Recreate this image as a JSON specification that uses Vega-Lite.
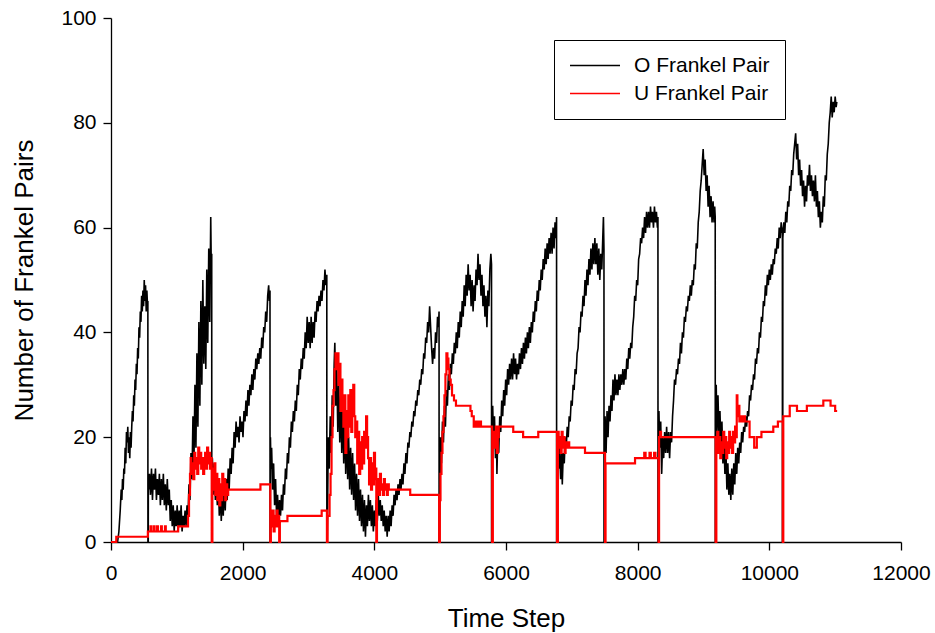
{
"$schema": "https://vega.github.io/schema/vega-lite/v6.json",
"width": 790, "height": 524,
"autosize": {"type": "none"},
"padding": {"left": 111, "top": 18, "right": 34, "bottom": 91},
"background": "white",
"config": {
 "view": {"stroke": null},
 "font": "Liberation Sans",
 "axis": {"domainColor": "black", "tickColor": "black", "labelColor": "black", "titleColor": "black", "grid": false, "labelFont": "Liberation Sans", "titleFont": "Liberation Sans", "labelFontSize": 21, "titleFontSize": 26, "titleFontWeight": "normal", "tickSize": 8, "domainWidth": 1.3, "tickWidth": 1.3}
},
"datasets": {
"o": [
{"t":0,"v":0},{"t":100,"v":0},{"t":120,"v":2},{"t":140,"v":6},{"t":155,"v":10},{"t":165,"v":8},{"t":175,"v":12},{"t":185,"v":10},{"t":195,"v":14},{"t":205,"v":13},{"t":215,"v":18},{"t":225,"v":15},{"t":235,"v":21},{"t":245,"v":19},{"t":255,"v":22},{"t":265,"v":17},{"t":275,"v":20},{"t":285,"v":16},{"t":295,"v":21},{"t":305,"v":18},{"t":315,"v":22},{"t":325,"v":25},{"t":335,"v":23},{"t":345,"v":28},{"t":355,"v":26},{"t":365,"v":31},{"t":375,"v":29},{"t":385,"v":34},{"t":395,"v":32},{"t":405,"v":37},{"t":415,"v":35},{"t":425,"v":41},{"t":435,"v":39},{"t":445,"v":44},{"t":455,"v":42},{"t":465,"v":47},{"t":475,"v":44},{"t":485,"v":48},{"t":495,"v":45},{"t":505,"v":50},{"t":515,"v":46},{"t":525,"v":49},{"t":535,"v":44},{"t":545,"v":48},{"t":555,"v":45},{"t":560,"v":46},{"t":561,"v":0},{"t":566,"v":0},{"t":567,"v":12},
{"t":570,"v":10},{"t":585,"v":13},{"t":600,"v":9},{"t":615,"v":14},{"t":630,"v":8},{"t":645,"v":13},{"t":660,"v":10},{"t":675,"v":14},{"t":690,"v":8},{"t":705,"v":12},{"t":720,"v":9},{"t":735,"v":13},{"t":750,"v":7},{"t":765,"v":12},{"t":780,"v":8},{"t":795,"v":13},{"t":810,"v":7},{"t":825,"v":11},{"t":840,"v":6},{"t":855,"v":12},{"t":870,"v":7},{"t":885,"v":10},{"t":900,"v":4},{"t":915,"v":8},{"t":930,"v":3},{"t":945,"v":7},{"t":960,"v":2},{"t":975,"v":6},{"t":990,"v":3},{"t":1005,"v":7},{"t":1020,"v":2},{"t":1035,"v":6},{"t":1050,"v":3},{"t":1065,"v":7},{"t":1080,"v":2},{"t":1095,"v":5},{"t":1110,"v":3},{"t":1125,"v":6},{"t":1140,"v":3},{"t":1155,"v":7},{"t":1170,"v":5},{"t":1185,"v":11},{"t":1200,"v":8},{"t":1215,"v":17},{"t":1230,"v":12},{"t":1245,"v":24},{"t":1260,"v":15},{"t":1275,"v":30},{"t":1290,"v":18},{"t":1305,"v":36},{"t":1320,"v":22},{"t":1335,"v":42},{"t":1350,"v":26},{"t":1365,"v":46},{"t":1380,"v":30},{"t":1395,"v":50},{"t":1410,"v":34},{"t":1425,"v":45},{"t":1440,"v":33},{"t":1455,"v":52},{"t":1470,"v":38},{"t":1485,"v":56},{"t":1500,"v":42},{"t":1515,"v":62},{"t":1525,"v":50},{"t":1530,"v":55},{"t":1531,"v":0},{"t":1536,"v":0},{"t":1537,"v":14},
{"t":1540,"v":16},{"t":1555,"v":9},{"t":1570,"v":15},{"t":1585,"v":8},{"t":1600,"v":13},{"t":1615,"v":7},{"t":1630,"v":12},{"t":1645,"v":5},{"t":1660,"v":10},{"t":1675,"v":4},{"t":1690,"v":9},{"t":1705,"v":5},{"t":1720,"v":11},{"t":1735,"v":6},{"t":1750,"v":12},{"t":1765,"v":8},{"t":1780,"v":14},{"t":1795,"v":10},{"t":1810,"v":16},{"t":1825,"v":13},{"t":1840,"v":18},{"t":1855,"v":15},{"t":1870,"v":21},{"t":1885,"v":18},{"t":1900,"v":23},{"t":1915,"v":20},{"t":1930,"v":22},{"t":1945,"v":19},{"t":1960,"v":24},{"t":1975,"v":21},{"t":1990,"v":23},{"t":2005,"v":20},{"t":2020,"v":25},{"t":2035,"v":23},{"t":2050,"v":27},{"t":2065,"v":24},{"t":2080,"v":29},{"t":2095,"v":26},{"t":2110,"v":30},{"t":2125,"v":28},{"t":2140,"v":32},{"t":2155,"v":29},{"t":2170,"v":33},{"t":2185,"v":31},{"t":2200,"v":35},{"t":2215,"v":33},{"t":2230,"v":36},{"t":2245,"v":34},{"t":2260,"v":37},{"t":2275,"v":35},{"t":2290,"v":39},{"t":2305,"v":37},{"t":2320,"v":41},{"t":2335,"v":40},{"t":2350,"v":44},{"t":2365,"v":42},{"t":2380,"v":47},{"t":2395,"v":49},{"t":2405,"v":46},{"t":2415,"v":48},{"t":2416,"v":0},{"t":2421,"v":0},{"t":2422,"v":20},
{"t":2430,"v":14},{"t":2440,"v":18},{"t":2455,"v":10},{"t":2470,"v":15},{"t":2485,"v":7},{"t":2500,"v":12},{"t":2515,"v":5},{"t":2530,"v":9},{"t":2545,"v":4},{"t":2560,"v":8},{"t":2575,"v":5},{"t":2590,"v":9},{"t":2605,"v":6},{"t":2620,"v":11},{"t":2635,"v":9},{"t":2650,"v":14},{"t":2665,"v":12},{"t":2680,"v":17},{"t":2695,"v":15},{"t":2710,"v":20},{"t":2725,"v":18},{"t":2740,"v":23},{"t":2755,"v":21},{"t":2770,"v":25},{"t":2785,"v":23},{"t":2800,"v":27},{"t":2815,"v":25},{"t":2830,"v":30},{"t":2845,"v":28},{"t":2860,"v":33},{"t":2875,"v":31},{"t":2890,"v":35},{"t":2905,"v":33},{"t":2920,"v":37},{"t":2935,"v":35},{"t":2950,"v":40},{"t":2965,"v":37},{"t":2980,"v":43},{"t":2995,"v":38},{"t":3010,"v":42},{"t":3025,"v":37},{"t":3040,"v":43},{"t":3055,"v":38},{"t":3070,"v":42},{"t":3085,"v":39},{"t":3100,"v":44},{"t":3115,"v":42},{"t":3130,"v":46},{"t":3145,"v":44},{"t":3160,"v":47},{"t":3175,"v":45},{"t":3190,"v":48},{"t":3205,"v":46},{"t":3220,"v":50},{"t":3235,"v":48},{"t":3250,"v":52},{"t":3265,"v":49},{"t":3278,"v":51},{"t":3279,"v":0},{"t":3284,"v":0},
{"t":3290,"v":6},{"t":3300,"v":20},{"t":3315,"v":14},{"t":3330,"v":24},{"t":3345,"v":17},{"t":3360,"v":28},{"t":3375,"v":22},{"t":3390,"v":34},{"t":3400,"v":38},{"t":3415,"v":26},{"t":3430,"v":33},{"t":3445,"v":21},{"t":3460,"v":30},{"t":3475,"v":19},{"t":3490,"v":28},{"t":3505,"v":17},{"t":3520,"v":26},{"t":3535,"v":15},{"t":3550,"v":24},{"t":3565,"v":13},{"t":3580,"v":22},{"t":3595,"v":12},{"t":3610,"v":20},{"t":3625,"v":10},{"t":3640,"v":18},{"t":3655,"v":9},{"t":3670,"v":17},{"t":3685,"v":8},{"t":3700,"v":15},{"t":3715,"v":6},{"t":3730,"v":13},{"t":3745,"v":5},{"t":3760,"v":12},{"t":3775,"v":4},{"t":3790,"v":10},{"t":3805,"v":3},{"t":3820,"v":9},{"t":3835,"v":2},{"t":3850,"v":8},{"t":3865,"v":1},{"t":3880,"v":7},{"t":3895,"v":3},{"t":3910,"v":9},{"t":3925,"v":4},{"t":3940,"v":8},{"t":3955,"v":3},{"t":3970,"v":7},{"t":3985,"v":2},{"t":4000,"v":6},{"t":4015,"v":3},{"t":4030,"v":8},{"t":4045,"v":4},{"t":4060,"v":9},{"t":4075,"v":5},{"t":4090,"v":8},{"t":4105,"v":4},{"t":4120,"v":7},{"t":4135,"v":3},{"t":4150,"v":6},{"t":4165,"v":2},{"t":4180,"v":5},{"t":4195,"v":1},{"t":4210,"v":5},{"t":4225,"v":2},{"t":4240,"v":6},{"t":4255,"v":3},{"t":4270,"v":7},{"t":4285,"v":5},{"t":4300,"v":9},{"t":4315,"v":7},{"t":4330,"v":10},{"t":4345,"v":8},{"t":4360,"v":11},{"t":4375,"v":9},{"t":4390,"v":12},{"t":4405,"v":10},{"t":4420,"v":13},{"t":4435,"v":11},{"t":4450,"v":15},{"t":4465,"v":13},{"t":4480,"v":17},{"t":4495,"v":15},{"t":4510,"v":19},{"t":4525,"v":18},{"t":4540,"v":21},{"t":4555,"v":20},{"t":4570,"v":23},{"t":4585,"v":22},{"t":4600,"v":25},{"t":4615,"v":24},{"t":4630,"v":27},{"t":4645,"v":26},{"t":4660,"v":29},{"t":4675,"v":28},{"t":4690,"v":31},{"t":4705,"v":30},{"t":4720,"v":33},{"t":4735,"v":32},{"t":4750,"v":36},{"t":4765,"v":35},{"t":4780,"v":39},{"t":4795,"v":38},{"t":4810,"v":42},{"t":4825,"v":40},{"t":4840,"v":45},{"t":4855,"v":41},{"t":4870,"v":37},{"t":4885,"v":34},{"t":4900,"v":37},{"t":4915,"v":35},{"t":4930,"v":40},{"t":4945,"v":38},{"t":4960,"v":43},{"t":4975,"v":41},{"t":4983,"v":44},{"t":4984,"v":0},{"t":4989,"v":0},
{"t":4995,"v":8},{"t":5005,"v":20},{"t":5020,"v":15},{"t":5035,"v":23},{"t":5050,"v":19},{"t":5065,"v":26},{"t":5080,"v":22},{"t":5095,"v":29},{"t":5110,"v":26},{"t":5125,"v":32},{"t":5140,"v":29},{"t":5155,"v":34},{"t":5170,"v":32},{"t":5185,"v":36},{"t":5200,"v":34},{"t":5215,"v":38},{"t":5230,"v":36},{"t":5245,"v":40},{"t":5260,"v":37},{"t":5275,"v":42},{"t":5290,"v":39},{"t":5305,"v":44},{"t":5320,"v":41},{"t":5335,"v":46},{"t":5350,"v":43},{"t":5365,"v":49},{"t":5380,"v":45},{"t":5395,"v":51},{"t":5410,"v":47},{"t":5425,"v":53},{"t":5440,"v":48},{"t":5455,"v":51},{"t":5470,"v":45},{"t":5485,"v":50},{"t":5500,"v":44},{"t":5515,"v":49},{"t":5530,"v":46},{"t":5545,"v":52},{"t":5560,"v":49},{"t":5575,"v":55},{"t":5590,"v":50},{"t":5605,"v":53},{"t":5620,"v":47},{"t":5635,"v":51},{"t":5650,"v":45},{"t":5665,"v":49},{"t":5680,"v":43},{"t":5695,"v":47},{"t":5710,"v":41},{"t":5725,"v":48},{"t":5740,"v":45},{"t":5755,"v":52},{"t":5770,"v":55},{"t":5780,"v":53},{"t":5781,"v":0},{"t":5786,"v":0},
{"t":5792,"v":10},{"t":5798,"v":26},{"t":5810,"v":19},{"t":5825,"v":24},{"t":5840,"v":16},{"t":5855,"v":21},{"t":5862,"v":13},{"t":5875,"v":20},{"t":5890,"v":17},{"t":5905,"v":24},{"t":5920,"v":21},{"t":5935,"v":27},{"t":5950,"v":24},{"t":5965,"v":29},{"t":5980,"v":26},{"t":5995,"v":31},{"t":6010,"v":28},{"t":6025,"v":33},{"t":6040,"v":30},{"t":6055,"v":34},{"t":6070,"v":31},{"t":6085,"v":35},{"t":6100,"v":31},{"t":6115,"v":36},{"t":6130,"v":32},{"t":6145,"v":35},{"t":6160,"v":31},{"t":6175,"v":34},{"t":6190,"v":32},{"t":6205,"v":36},{"t":6220,"v":33},{"t":6235,"v":37},{"t":6250,"v":34},{"t":6265,"v":38},{"t":6280,"v":35},{"t":6295,"v":39},{"t":6310,"v":36},{"t":6325,"v":40},{"t":6340,"v":37},{"t":6355,"v":41},{"t":6370,"v":38},{"t":6385,"v":42},{"t":6400,"v":40},{"t":6415,"v":44},{"t":6430,"v":42},{"t":6445,"v":46},{"t":6460,"v":44},{"t":6475,"v":48},{"t":6490,"v":46},{"t":6505,"v":50},{"t":6520,"v":48},{"t":6535,"v":52},{"t":6550,"v":50},{"t":6565,"v":54},{"t":6580,"v":52},{"t":6595,"v":56},{"t":6610,"v":53},{"t":6625,"v":57},{"t":6640,"v":54},{"t":6655,"v":58},{"t":6670,"v":55},{"t":6685,"v":59},{"t":6700,"v":55},{"t":6715,"v":60},{"t":6730,"v":56},{"t":6745,"v":61},{"t":6760,"v":58},{"t":6768,"v":62},{"t":6769,"v":0},{"t":6774,"v":0},
{"t":6780,"v":12},{"t":6786,"v":20},{"t":6800,"v":14},{"t":6815,"v":18},{"t":6830,"v":12},{"t":6845,"v":17},{"t":6855,"v":11},{"t":6870,"v":17},{"t":6885,"v":15},{"t":6900,"v":20},{"t":6915,"v":18},{"t":6930,"v":22},{"t":6945,"v":20},{"t":6960,"v":24},{"t":6975,"v":23},{"t":6990,"v":27},{"t":7005,"v":26},{"t":7020,"v":30},{"t":7035,"v":29},{"t":7050,"v":33},{"t":7065,"v":32},{"t":7080,"v":36},{"t":7095,"v":37},{"t":7110,"v":41},{"t":7125,"v":40},{"t":7140,"v":44},{"t":7155,"v":43},{"t":7170,"v":47},{"t":7185,"v":45},{"t":7200,"v":50},{"t":7215,"v":47},{"t":7230,"v":52},{"t":7245,"v":49},{"t":7260,"v":54},{"t":7275,"v":51},{"t":7290,"v":56},{"t":7305,"v":52},{"t":7320,"v":57},{"t":7335,"v":53},{"t":7350,"v":58},{"t":7365,"v":53},{"t":7380,"v":57},{"t":7395,"v":51},{"t":7410,"v":56},{"t":7425,"v":50},{"t":7440,"v":55},{"t":7455,"v":52},{"t":7470,"v":58},{"t":7480,"v":62},{"t":7488,"v":56},{"t":7489,"v":0},{"t":7494,"v":0},
{"t":7500,"v":12},{"t":7505,"v":24},{"t":7520,"v":17},{"t":7535,"v":25},{"t":7550,"v":20},{"t":7565,"v":26},{"t":7580,"v":23},{"t":7595,"v":28},{"t":7610,"v":25},{"t":7625,"v":31},{"t":7640,"v":27},{"t":7655,"v":32},{"t":7670,"v":28},{"t":7685,"v":31},{"t":7700,"v":28},{"t":7715,"v":32},{"t":7730,"v":29},{"t":7745,"v":32},{"t":7760,"v":30},{"t":7775,"v":33},{"t":7790,"v":30},{"t":7805,"v":33},{"t":7820,"v":31},{"t":7835,"v":35},{"t":7850,"v":33},{"t":7865,"v":37},{"t":7880,"v":35},{"t":7895,"v":38},{"t":7910,"v":37},{"t":7925,"v":41},{"t":7940,"v":43},{"t":7955,"v":47},{"t":7970,"v":46},{"t":7985,"v":50},{"t":8000,"v":49},{"t":8015,"v":54},{"t":8030,"v":55},{"t":8045,"v":58},{"t":8060,"v":57},{"t":8075,"v":60},{"t":8090,"v":58},{"t":8105,"v":62},{"t":8120,"v":59},{"t":8135,"v":63},{"t":8150,"v":60},{"t":8165,"v":63},{"t":8180,"v":60},{"t":8195,"v":64},{"t":8210,"v":61},{"t":8225,"v":63},{"t":8240,"v":60},{"t":8255,"v":64},{"t":8270,"v":61},{"t":8285,"v":63},{"t":8300,"v":60},{"t":8308,"v":62},{"t":8309,"v":0},{"t":8314,"v":0},
{"t":8318,"v":12},{"t":8323,"v":25},{"t":8335,"v":18},{"t":8350,"v":23},{"t":8365,"v":13},{"t":8380,"v":20},{"t":8395,"v":16},{"t":8410,"v":21},{"t":8425,"v":17},{"t":8440,"v":22},{"t":8455,"v":17},{"t":8470,"v":21},{"t":8485,"v":16},{"t":8500,"v":21},{"t":8515,"v":19},{"t":8530,"v":24},{"t":8545,"v":27},{"t":8560,"v":31},{"t":8575,"v":30},{"t":8590,"v":33},{"t":8605,"v":32},{"t":8620,"v":35},{"t":8635,"v":34},{"t":8650,"v":38},{"t":8665,"v":36},{"t":8680,"v":40},{"t":8695,"v":39},{"t":8710,"v":43},{"t":8725,"v":42},{"t":8740,"v":45},{"t":8755,"v":44},{"t":8770,"v":47},{"t":8785,"v":46},{"t":8800,"v":49},{"t":8815,"v":47},{"t":8830,"v":50},{"t":8845,"v":49},{"t":8860,"v":53},{"t":8875,"v":52},{"t":8890,"v":57},{"t":8905,"v":56},{"t":8920,"v":61},{"t":8935,"v":63},{"t":8950,"v":67},{"t":8965,"v":69},{"t":8980,"v":72},{"t":8995,"v":75},{"t":9010,"v":70},{"t":9025,"v":73},{"t":9040,"v":67},{"t":9055,"v":70},{"t":9070,"v":64},{"t":9085,"v":68},{"t":9100,"v":62},{"t":9115,"v":66},{"t":9130,"v":61},{"t":9145,"v":65},{"t":9160,"v":61},{"t":9170,"v":64},{"t":9178,"v":62},{"t":9179,"v":0},{"t":9184,"v":0},
{"t":9188,"v":14},{"t":9193,"v":30},{"t":9205,"v":21},{"t":9220,"v":28},{"t":9235,"v":20},{"t":9250,"v":25},{"t":9265,"v":18},{"t":9280,"v":23},{"t":9295,"v":15},{"t":9310,"v":20},{"t":9325,"v":13},{"t":9340,"v":18},{"t":9355,"v":10},{"t":9370,"v":15},{"t":9385,"v":9},{"t":9400,"v":13},{"t":9415,"v":8},{"t":9430,"v":14},{"t":9445,"v":9},{"t":9460,"v":15},{"t":9475,"v":11},{"t":9490,"v":17},{"t":9505,"v":13},{"t":9520,"v":18},{"t":9535,"v":15},{"t":9550,"v":19},{"t":9565,"v":17},{"t":9580,"v":21},{"t":9595,"v":19},{"t":9610,"v":22},{"t":9625,"v":21},{"t":9640,"v":24},{"t":9655,"v":22},{"t":9670,"v":25},{"t":9685,"v":24},{"t":9700,"v":28},{"t":9715,"v":27},{"t":9730,"v":30},{"t":9745,"v":29},{"t":9760,"v":32},{"t":9775,"v":31},{"t":9790,"v":35},{"t":9805,"v":34},{"t":9820,"v":37},{"t":9835,"v":36},{"t":9850,"v":40},{"t":9865,"v":39},{"t":9880,"v":43},{"t":9895,"v":42},{"t":9910,"v":46},{"t":9925,"v":45},{"t":9940,"v":49},{"t":9955,"v":47},{"t":9970,"v":51},{"t":9985,"v":49},{"t":10000,"v":52},{"t":10015,"v":50},{"t":10030,"v":53},{"t":10045,"v":51},{"t":10060,"v":54},{"t":10075,"v":53},{"t":10090,"v":56},{"t":10105,"v":55},{"t":10120,"v":58},{"t":10135,"v":56},{"t":10150,"v":60},{"t":10165,"v":58},{"t":10180,"v":61},{"t":10195,"v":59},{"t":10198,"v":60},{"t":10199,"v":0},{"t":10204,"v":0},{"t":10205,"v":58},
{"t":10220,"v":61},{"t":10235,"v":59},{"t":10250,"v":63},{"t":10265,"v":61},{"t":10280,"v":65},{"t":10295,"v":64},{"t":10310,"v":68},{"t":10325,"v":67},{"t":10340,"v":71},{"t":10355,"v":70},{"t":10370,"v":74},{"t":10385,"v":76},{"t":10400,"v":78},{"t":10415,"v":73},{"t":10430,"v":76},{"t":10445,"v":70},{"t":10460,"v":73},{"t":10475,"v":68},{"t":10490,"v":71},{"t":10505,"v":66},{"t":10520,"v":69},{"t":10535,"v":64},{"t":10550,"v":68},{"t":10565,"v":65},{"t":10580,"v":70},{"t":10595,"v":68},{"t":10610,"v":72},{"t":10625,"v":67},{"t":10640,"v":70},{"t":10655,"v":66},{"t":10670,"v":69},{"t":10685,"v":65},{"t":10700,"v":70},{"t":10715,"v":64},{"t":10730,"v":67},{"t":10745,"v":62},{"t":10760,"v":65},{"t":10775,"v":60},{"t":10790,"v":63},{"t":10805,"v":61},{"t":10820,"v":66},{"t":10835,"v":64},{"t":10850,"v":70},{"t":10865,"v":69},{"t":10880,"v":74},{"t":10895,"v":76},{"t":10910,"v":80},{"t":10925,"v":82},{"t":10940,"v":85},{"t":10955,"v":81},{"t":10970,"v":84},{"t":10985,"v":82},{"t":11000,"v":85},{"t":11015,"v":83},{"t":11025,"v":84}
],
"u": [
{"t":0,"v":0},{"t":80,"v":1},{"t":560,"v":2},{"t":600,"v":3},{"t":612,"v":2},{"t":650,"v":3},{"t":662,"v":2},{"t":700,"v":3},{"t":712,"v":2},{"t":760,"v":3},{"t":772,"v":2},{"t":820,"v":3},{"t":832,"v":2},{"t":1020,"v":3},{"t":1170,"v":5},{"t":1185,"v":9},{"t":1200,"v":13},{"t":1210,"v":16},{"t":1220,"v":13},{"t":1235,"v":15},{"t":1250,"v":12},{"t":1265,"v":17},{"t":1280,"v":14},{"t":1295,"v":16},{"t":1310,"v":13},{"t":1325,"v":18},{"t":1340,"v":15},{"t":1355,"v":17},{"t":1370,"v":14},{"t":1385,"v":16},{"t":1400,"v":13},{"t":1415,"v":15},{"t":1430,"v":17},{"t":1445,"v":14},{"t":1460,"v":18},{"t":1475,"v":15},{"t":1490,"v":17},{"t":1505,"v":14},{"t":1520,"v":16},{"t":1530,"v":0},
{"t":1540,"v":14},{"t":1555,"v":10},{"t":1570,"v":15},{"t":1585,"v":9},{"t":1600,"v":13},{"t":1615,"v":8},{"t":1630,"v":12},{"t":1645,"v":7},{"t":1660,"v":11},{"t":1675,"v":8},{"t":1690,"v":13},{"t":1705,"v":9},{"t":1720,"v":12},{"t":1735,"v":8},{"t":1750,"v":11},{"t":1765,"v":9},{"t":1780,"v":10},{"t":2270,"v":11},{"t":2420,"v":0},{"t":2428,"v":6},{"t":2440,"v":3},{"t":2455,"v":6},{"t":2470,"v":2},{"t":2485,"v":5},{"t":2500,"v":3},{"t":2515,"v":6},{"t":2530,"v":3},{"t":2545,"v":5},{"t":2555,"v":0},{"t":2565,"v":4},{"t":2680,"v":5},{"t":3200,"v":6},{"t":3280,"v":0},
{"t":3290,"v":5},{"t":3320,"v":9},{"t":3335,"v":13},{"t":3350,"v":20},{"t":3365,"v":26},{"t":3380,"v":29},{"t":3395,"v":33},{"t":3410,"v":36},{"t":3425,"v":33},{"t":3440,"v":36},{"t":3455,"v":30},{"t":3470,"v":34},{"t":3485,"v":25},{"t":3500,"v":31},{"t":3515,"v":27},{"t":3530,"v":22},{"t":3545,"v":28},{"t":3560,"v":17},{"t":3575,"v":25},{"t":3590,"v":20},{"t":3605,"v":28},{"t":3620,"v":22},{"t":3635,"v":29},{"t":3650,"v":21},{"t":3665,"v":27},{"t":3680,"v":30},{"t":3695,"v":24},{"t":3710,"v":20},{"t":3725,"v":23},{"t":3740,"v":15},{"t":3755,"v":21},{"t":3770,"v":13},{"t":3785,"v":19},{"t":3800,"v":14},{"t":3815,"v":20},{"t":3830,"v":15},{"t":3845,"v":21},{"t":3860,"v":18},{"t":3875,"v":24},{"t":3890,"v":20},{"t":3905,"v":16},{"t":3920,"v":11},{"t":3935,"v":16},{"t":3950,"v":10},{"t":3965,"v":15},{"t":3980,"v":11},{"t":3995,"v":17},{"t":4010,"v":12},{"t":4022,"v":14},{"t":4030,"v":0},
{"t":4040,"v":9},{"t":4055,"v":12},{"t":4070,"v":9},{"t":4085,"v":13},{"t":4100,"v":10},{"t":4115,"v":11},{"t":4130,"v":9},{"t":4145,"v":12},{"t":4160,"v":10},{"t":4175,"v":11},{"t":4190,"v":9},{"t":4205,"v":11},{"t":4220,"v":10},{"t":4545,"v":9},{"t":4985,"v":0},
{"t":4995,"v":8},{"t":5005,"v":13},{"t":5020,"v":17},{"t":5035,"v":21},{"t":5050,"v":24},{"t":5065,"v":28},{"t":5080,"v":32},{"t":5095,"v":36},{"t":5110,"v":35},{"t":5125,"v":33},{"t":5140,"v":31},{"t":5160,"v":30},{"t":5180,"v":28},{"t":5210,"v":27},{"t":5240,"v":26},{"t":5460,"v":25},{"t":5480,"v":24},{"t":5510,"v":22},{"t":5540,"v":23},{"t":5560,"v":22},{"t":5590,"v":23},{"t":5620,"v":22},{"t":5790,"v":0},
{"t":5800,"v":19},{"t":5815,"v":21},{"t":5830,"v":18},{"t":5845,"v":22},{"t":5860,"v":17},{"t":5875,"v":20},{"t":5890,"v":22},{"t":6110,"v":21},{"t":6260,"v":20},{"t":6490,"v":21},{"t":6775,"v":0},
{"t":6788,"v":21},{"t":6800,"v":18},{"t":6815,"v":20},{"t":6830,"v":17},{"t":6845,"v":21},{"t":6860,"v":18},{"t":6875,"v":20},{"t":6890,"v":17},{"t":6905,"v":19},{"t":6920,"v":18},{"t":6945,"v":19},{"t":6960,"v":18},{"t":7200,"v":17},{"t":7505,"v":0},
{"t":7512,"v":15},{"t":7960,"v":16},{"t":8100,"v":17},{"t":8120,"v":16},{"t":8180,"v":17},{"t":8200,"v":16},{"t":8250,"v":17},{"t":8270,"v":16},{"t":8318,"v":0},
{"t":8325,"v":20},{"t":8340,"v":21},{"t":8355,"v":20},{"t":9185,"v":0},
{"t":9195,"v":18},{"t":9210,"v":21},{"t":9225,"v":17},{"t":9240,"v":20},{"t":9255,"v":16},{"t":9270,"v":19},{"t":9285,"v":17},{"t":9300,"v":21},{"t":9315,"v":18},{"t":9330,"v":20},{"t":9345,"v":16},{"t":9360,"v":19},{"t":9375,"v":17},{"t":9390,"v":21},{"t":9405,"v":18},{"t":9420,"v":20},{"t":9435,"v":17},{"t":9450,"v":21},{"t":9465,"v":19},{"t":9480,"v":22},{"t":9495,"v":20},{"t":9505,"v":28},{"t":9515,"v":24},{"t":9530,"v":26},{"t":9545,"v":23},{"t":9560,"v":24},{"t":9580,"v":23},{"t":9600,"v":24},{"t":9630,"v":23},{"t":9700,"v":20},{"t":9770,"v":18},{"t":9810,"v":20},{"t":9880,"v":21},{"t":10060,"v":22},{"t":10130,"v":23},{"t":10205,"v":0},
{"t":10212,"v":24},{"t":10310,"v":26},{"t":10420,"v":25},{"t":10570,"v":26},{"t":10820,"v":27},{"t":10930,"v":26},{"t":11000,"v":25},{"t":11030,"v":25}
]
},
"layer": [
 {
  "data": {"name": "o"},
  "mark": {"type": "line", "strokeWidth": 1.6, "interpolate": "linear"},
  "encoding": {
   "x": {"field": "t", "type": "quantitative", "scale": {"domain": [0, 12000], "nice": false},
     "axis": {"title": "Time Step", "format": "d", "values": [0, 2000, 4000, 6000, 8000, 10000, 12000], "labelPadding": 12, "titleBaseline": "alphabetic", "titleY": 84, "labelFlush": false, "labelOverlap": false}},
   "y": {"field": "v", "type": "quantitative", "scale": {"domain": [0, 100], "nice": false},
     "axis": {"title": "Number of Frankel Pairs", "format": "d", "values": [0, 20, 40, 60, 80, 100], "labelPadding": 7, "titleBaseline": "alphabetic", "titleX": -79, "labelFlush": false}},
   "color": {"datum": "O Frankel Pair", "type": "nominal",
     "scale": {"domain": ["O Frankel Pair", "U Frankel Pair"], "range": ["#000000", "#ff0000"]},
     "legend": {"title": null, "orient": "none", "legendX": 443, "legendY": 22, "strokeColor": "black", "fillColor": "white", "padding": 15, "symbolType": "stroke", "symbolSize": 2500, "symbolStrokeWidth": 1.5, "labelFontSize": 21, "labelFont": "Liberation Sans", "labelColor": "black", "labelOffset": 13, "rowPadding": 6, "clipHeight": 21, "labelLimit": 300}}
  }
 },
 {
  "data": {"name": "u"},
  "mark": {"type": "line", "strokeWidth": 2.2, "interpolate": "step-after"},
  "encoding": {
   "x": {"field": "t", "type": "quantitative"},
   "y": {"field": "v", "type": "quantitative"},
   "color": {"datum": "U Frankel Pair", "type": "nominal"}
  }
 }
]
}
